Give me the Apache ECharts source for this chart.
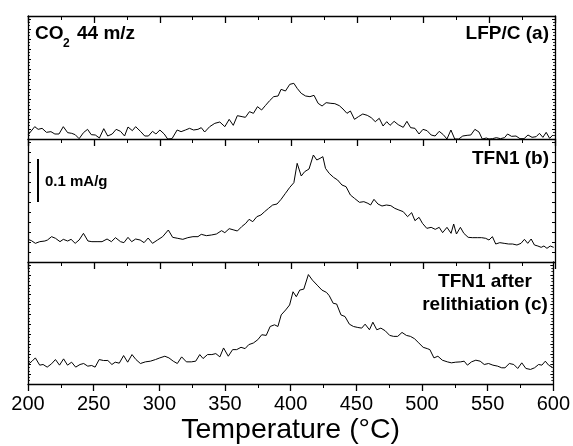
<!DOCTYPE html>
<html>
<head>
<meta charset="utf-8">
<script src="https://cdn.jsdelivr.net/npm/echarts@6/dist/echarts.min.js"></script>
<style>
html,body{margin:0;padding:0;background:#fff;}
#chart{width:573px;height:446px;}
</style>
</head>
<body>
<div id="chart"></div>
<script>
// Temperature (°C) and CO2 (44 m/z) signal, arbitrary units (0.1 mA/g = 129 units)
var tA = [200.0,205.1,207.7,210.7,214.0,217.4,220.4,223.5,226.8,230.1,233.2,235.8,238.8,242.1,245.2,248.0,251.1,254.2,257.5,260.5,263.9,266.9,270.2,273.3,275.9,279.2,281.7,285.6,288.6,291.4,294.5,297.1,300.1,303.4,306.0,309.3,313.2,316.2,319.5,322.6,325.7,329.0,331.5,334.1,337.9,341.8,345.6,349.4,352.7,355.8,358.9,362.5,365.0,368.1,371.1,374.2,377.3,380.1,383.4,386.5,389.8,392.1,395.4,398.7,401.8,404.3,407.4,410.7,414.0,417.1,420.2,423.2,426.3,429.9,432.9,436.3,439.1,442.1,444.7,447.8,450.8,454.1,457.5,460.5,463.6,466.6,469.5,472.3,474.8,477.9,481.0,484.8,487.6,490.4,493.7,496.8,499.8,502.9,506.0,509.0,512.1,515.2,518.0,521.0,523.9,526.9,530.0,533.3,536.1,539.2,542.3,544.8,547.9,549.9,552.5,555.5,558.6,561.7,564.0,567.0,570.4,573.4,576.5,579.5,582.6,585.7,588.2,590.8,593.3,595.9,598.4];
var vA = [12,37,29,32,20,22,15,15,37,19,17,13,1,19,29,13,12,3,31,9,15,29,23,9,36,25,37,22,9,9,23,15,27,15,0,1,27,22,27,32,27,29,34,21,37,47,51,37,59,41,70,67,65,82,77,97,87,100,115,127,129,149,144,164,167,152,137,129,127,131,107,99,109,107,106,100,90,77,84,59,67,75,71,64,52,62,39,52,41,53,43,35,53,34,32,15,29,25,12,9,23,13,0,27,0,0,9,11,12,29,21,0,3,0,1,4,1,4,15,8,9,1,1,12,5,7,17,5,20,2,12];

var tB = [200.0,202.6,205.6,208.9,212.8,214.8,217.9,220.9,224.3,226.8,230.1,232.7,235.8,238.8,242.1,245.5,248.5,252.4,256.2,260.0,263.3,266.4,270.2,272.8,275.9,278.7,281.7,285.1,288.1,291.2,294.5,298.3,302.2,306.5,309.8,313.7,317.5,321.3,325.2,329.0,331.5,335.4,339.2,343.0,346.9,349.4,352.7,356.3,358.9,362.2,365.3,367.8,370.6,373.7,376.8,379.6,382.6,385.7,389.0,392.1,395.4,398.7,401.8,404.3,407.4,410.0,413.3,416.6,419.2,421.7,423.8,425.8,428.6,431.9,435.0,438.3,441.4,444.7,447.8,451.6,454.9,458.0,460.0,462.6,465.6,468.7,472.0,475.4,478.4,481.5,484.8,488.1,491.2,493.7,496.8,499.4,502.7,506.0,509.1,512.1,514.7,518.0,521.1,523.1,525.2,528.2,530.8,534.1,537.2,541.0,544.3,547.4,549.9,552.5,555.0,558.1,561.4,564.8,567.8,571.1,574.2,576.8,579.3,581.9,584.4,587.0,589.5,591.6,593.9,596.4,599.0];
var vB = [68,64,56,61,63,66,76,71,61,68,63,68,56,66,86,63,61,61,61,69,61,73,61,58,74,61,69,66,58,72,56,66,76,96,74,71,68,73,76,76,83,79,81,84,94,88,100,96,93,106,116,128,121,136,141,151,161,171,174,188,206,224,238,296,258,271,279,321,306,311,316,281,266,254,246,231,226,201,191,179,181,176,171,188,174,168,171,169,161,156,151,136,148,124,134,116,101,104,98,104,88,104,86,114,84,104,86,74,73,73,73,71,66,76,54,58,56,54,54,51,56,68,56,69,51,48,44,48,41,48,44];

var tC = [200.0,203.1,205.6,208.9,211.5,214.6,217.9,220.9,224.0,227.1,230.1,233.2,236.3,239.6,242.4,245.5,248.5,251.1,254.2,257.5,260.8,263.9,266.4,269.5,272.8,275.9,279.2,282.2,285.6,289.4,293.2,297.1,300.4,304.2,307.3,310.6,313.7,317.0,320.6,324.4,327.7,330.8,333.3,336.7,340.0,343.0,346.1,348.9,352.5,355.8,358.9,362.2,365.3,368.1,371.6,375.0,378.0,381.4,384.4,387.7,390.3,392.8,396.2,399.2,401.8,404.3,406.9,410.0,413.5,416.6,420.2,423.8,427.3,429.4,432.4,435.0,438.3,441.4,444.7,447.8,451.1,454.1,456.7,460.0,462.6,465.6,468.7,472.0,475.4,478.4,481.5,484.8,488.1,491.2,494.3,497.6,500.9,504.0,506.0,509.1,512.1,515.5,519.3,522.4,525.7,529.5,532.1,534.6,537.7,541.0,544.3,547.4,550.7,554.0,557.6,560.7,563.2,566.5,569.9,572.9,576.0,579.1,582.6,585.7,588.8,591.3,593.9,596.4,599.0];
var vC = [59,69,79,57,59,51,61,74,57,76,57,66,51,59,62,54,56,51,74,71,71,59,66,63,86,66,89,74,62,67,69,74,79,84,79,69,62,82,67,67,69,89,77,89,89,92,82,109,84,104,104,111,107,119,124,134,149,147,174,179,174,209,224,239,279,264,284,287,331,314,299,284,277,267,244,242,209,204,181,174,171,169,181,164,187,164,169,161,147,144,144,156,147,144,137,124,111,107,104,79,84,72,67,64,66,67,69,57,67,72,69,59,62,57,54,49,49,62,59,47,64,47,44,49,59,57,69,57,51];

var xTicks = [200,250,300,350,400,450,500,550,600];
var panelLabels = ['LFP/C (a)', 'TFN1 (b)', 'TFN1 after', 'relithiation (c)'];
var scaleBarT = 207.6, scaleBarBase = 180, scaleBarSize = 129; // 0.1 mA/g
var yMax = 369;

function zip(t, v){ return t.map(function(x,i){ return [x, v[i]]; }); }

var FONT = '"Liberation Sans", Arial, sans-serif';
var gridTops = [16, 139, 262];
var grids = gridTops.map(function(t){ return {left:28, right:18, top:t, height:123}; });

var xAxes = [], yAxes = [];
for (var i=0;i<3;i++){
  xAxes.push({
    type:'value', gridIndex:i, min:xTicks[0], max:xTicks[xTicks.length-1], interval:50,
    position:'bottom',
    axisLine:{show:true, onZero:false, lineStyle:{color:'#000', width:1.3}},
    axisTick:{show:true, inside:false, length:7, lineStyle:{color:'#000', width:1.3}},
    minorTick:{show:true, splitNumber:2, length:4, lineStyle:{color:'#000', width:1}},
    splitLine:{show:false},
    axisLabel:{show:i===2, color:'#000', fontSize:20, fontFamily:FONT, margin:10},
    name: i===2 ? 'Temperature (°C)' : '',
    nameLocation:'middle', nameGap:32,
    nameTextStyle:{color:'#000', fontSize:28.5, fontFamily:FONT}
  });
}
// top axis of first panel
xAxes.push({
  type:'value', gridIndex:0, min:200, max:600, interval:50, position:'top',
  axisLine:{show:true, onZero:false, lineStyle:{color:'#000', width:1.3}},
  axisTick:{show:true, inside:true, length:7, lineStyle:{color:'#000', width:1.3}},
  minorTick:{show:true, splitNumber:2, length:4, lineStyle:{color:'#000', width:1}},
  splitLine:{show:false}, axisLabel:{show:false}
});
for (var j=0;j<3;j++){
  ['left','right'].forEach(function(pos){
    yAxes.push({
      type:'value', gridIndex:j, min:0, max:yMax, interval:30, position:pos,
      axisLine:{show:true, onZero:false, lineStyle:{color:'#000', width:1.3}},
      axisTick:{show:true, inside:true, length:3, lineStyle:{color:'#000', width:1}},
      minorTick:{show:j!==1, splitNumber:3, length:2, lineStyle:{color:'#000', width:0.8}},
      splitLine:{show:false}, axisLabel:{show:false}
    });
  });
}

var lineStyle = {color:'#000', width:1};
var series = [
  {type:'line', xAxisIndex:0, yAxisIndex:0, data:zip(tA,vA), showSymbol:false, lineStyle:lineStyle, silent:true},
  {type:'line', xAxisIndex:1, yAxisIndex:2, data:zip(tB,vB), showSymbol:false, lineStyle:lineStyle, silent:true,
    markLine:{silent:true, symbol:['none','none'], label:{show:false},
      lineStyle:{color:'#000', width:2, type:'solid'},
      data:[[{coord:[scaleBarT, scaleBarBase]},{coord:[scaleBarT, scaleBarBase+scaleBarSize]}]]}},
  {type:'line', xAxisIndex:2, yAxisIndex:4, data:zip(tC,vC), showSymbol:false, lineStyle:lineStyle, silent:true}
];

function txt(x, y, s, size, align){
  return {type:'text', silent:true, style:{x:x, y:y, text:s, fill:'#000', font:'bold '+size+'px '+FONT,
    textAlign:align||'left', textVerticalAlign:'middle'}};
}

var chart = echarts.init(document.getElementById('chart'), null, {renderer:'canvas'});
chart.setOption({
  animation:false,
  backgroundColor:'#fff',
  grid:grids,
  xAxis:xAxes,
  yAxis:yAxes,
  series:series,
  graphic:[
    txt(35, 34, 'CO', 19),
    txt(63, 44, '2', 12),
    txt(77, 34, '44 m/z', 19),
    txt(549, 34, panelLabels[0], 19, 'right'),
    txt(549, 159, panelLabels[1], 19, 'right'),
    txt(485, 282, panelLabels[2], 19, 'center'),
    txt(485, 305, panelLabels[3], 19, 'center'),
    txt(45, 182, '0.1 mA/g', 15)
  ]
});
</script>
</body>
</html>
